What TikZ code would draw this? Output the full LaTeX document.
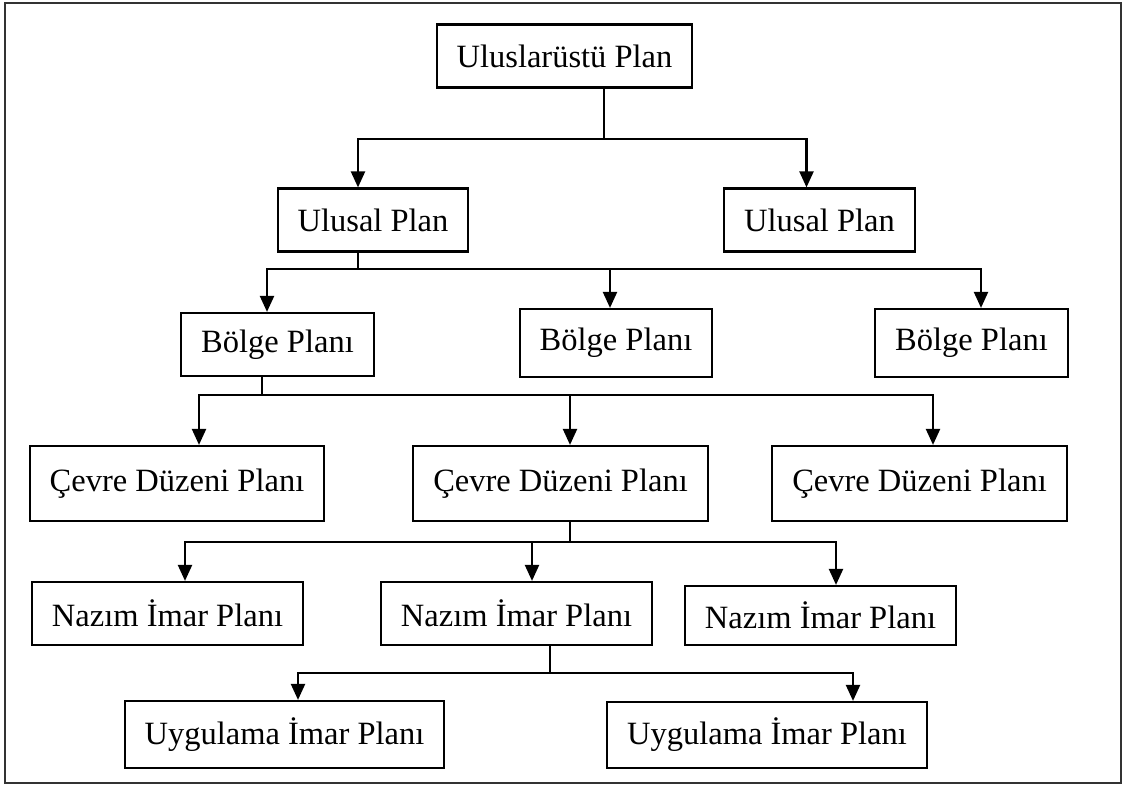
\documentclass[tikz,border=0pt]{standalone}
\usepackage{fontspec}
\setmainfont{Liberation Serif}
\usetikzlibrary{arrows.meta}
\tikzset{plan/.style={draw,line width=2.2pt,inner xsep=20pt,minimum height=63pt,font=\fontsize{32.5}{38}\selectfont}}
\begin{document}
\begin{tikzpicture}[x=1pt,y=-1pt,>={Triangle[width=14pt,length=16pt]},line width=2.2pt]
			\useasboundingbox (0,0) rectangle (1127,787);
			\draw[line width=2.2pt,black!80] (5,3) rectangle (1121,783);
			% plans
			\node[plan] (top) at (564.5,56) {Uluslarüstü Plan};
			\node[plan] (ulL) at (373,220) {Ulusal Plan};
			\node[plan] (ulR) at (819.5,220) {Ulusal Plan};
			\node[plan] (bL) at (277.5,344.5) {Bölge Planı};
			\node[plan,minimum height=68pt] (bM) at (616,343) {Bölge Planı};
			\node[plan,minimum height=68pt] (bR) at (971.5,343) {Bölge Planı};
			\node[plan,minimum height=75pt] (cL) at (177,483.5) {Çevre Düzeni Planı};
			\node[plan,minimum height=75pt] (cM) at (560.5,483.5) {Çevre Düzeni Planı};
			\node[plan,minimum height=75pt] (cR) at (919.5,483.5) {Çevre Düzeni Planı};
			\node[plan] (nL) at (167.5,613.5) {Nazım İmar Planı};
			\node[plan] (nM) at (516.5,613.5) {Nazım İmar Planı};
			\node[plan,minimum height=59pt] (nR) at (820.5,615.5) {Nazım İmar Planı};
			\node[plan,minimum height=67pt] (uL) at (284.5,734.5) {Uygulama İmar Planı};
			\node[plan,minimum height=66pt] (uR) at (767,735) {Uygulama İmar Planı};
			% junctions
			\coordinate (j1) at (604,139);
			\coordinate (j2) at (358,269);
			\coordinate (j3) at (262,395);
			\coordinate (j4) at (570,542);
			\coordinate (j5) at (550,673);
			\draw (j1 |- top.south) -- (j1);
			\foreach \n/\dx in {ulL/-15,ulR/-13}
			\draw[->] (j1) -| ([xshift=\dx pt]\n.north);
			\draw (j2 |- ulL.south) -- (j2);
			\foreach \n/\dx in {bL/-10.5,bM/-6,bR/9.5}
			\draw[->] (j2) -| ([xshift=\dx pt]\n.north);
			\draw (j3 |- bL.south) -- (j3);
			\foreach \n/\dx in {cL/22,cM/9.5,cR/13.5}
			\draw[->] (j3) -| ([xshift=\dx pt]\n.north);
			\draw (j4 |- cM.south) -- (j4);
			\foreach \n/\dx in {nL/17.5,nM/15.5,nR/15.5}
			\draw[->] (j4) -| ([xshift=\dx pt]\n.north);
			\draw (j5 |- nM.south) -- (j5);
			\foreach \n/\dx in {uL/13.5,uR/86}
			\draw[->] (j5) -| ([xshift=\dx pt]\n.north);
\end{tikzpicture}
\end{document}
